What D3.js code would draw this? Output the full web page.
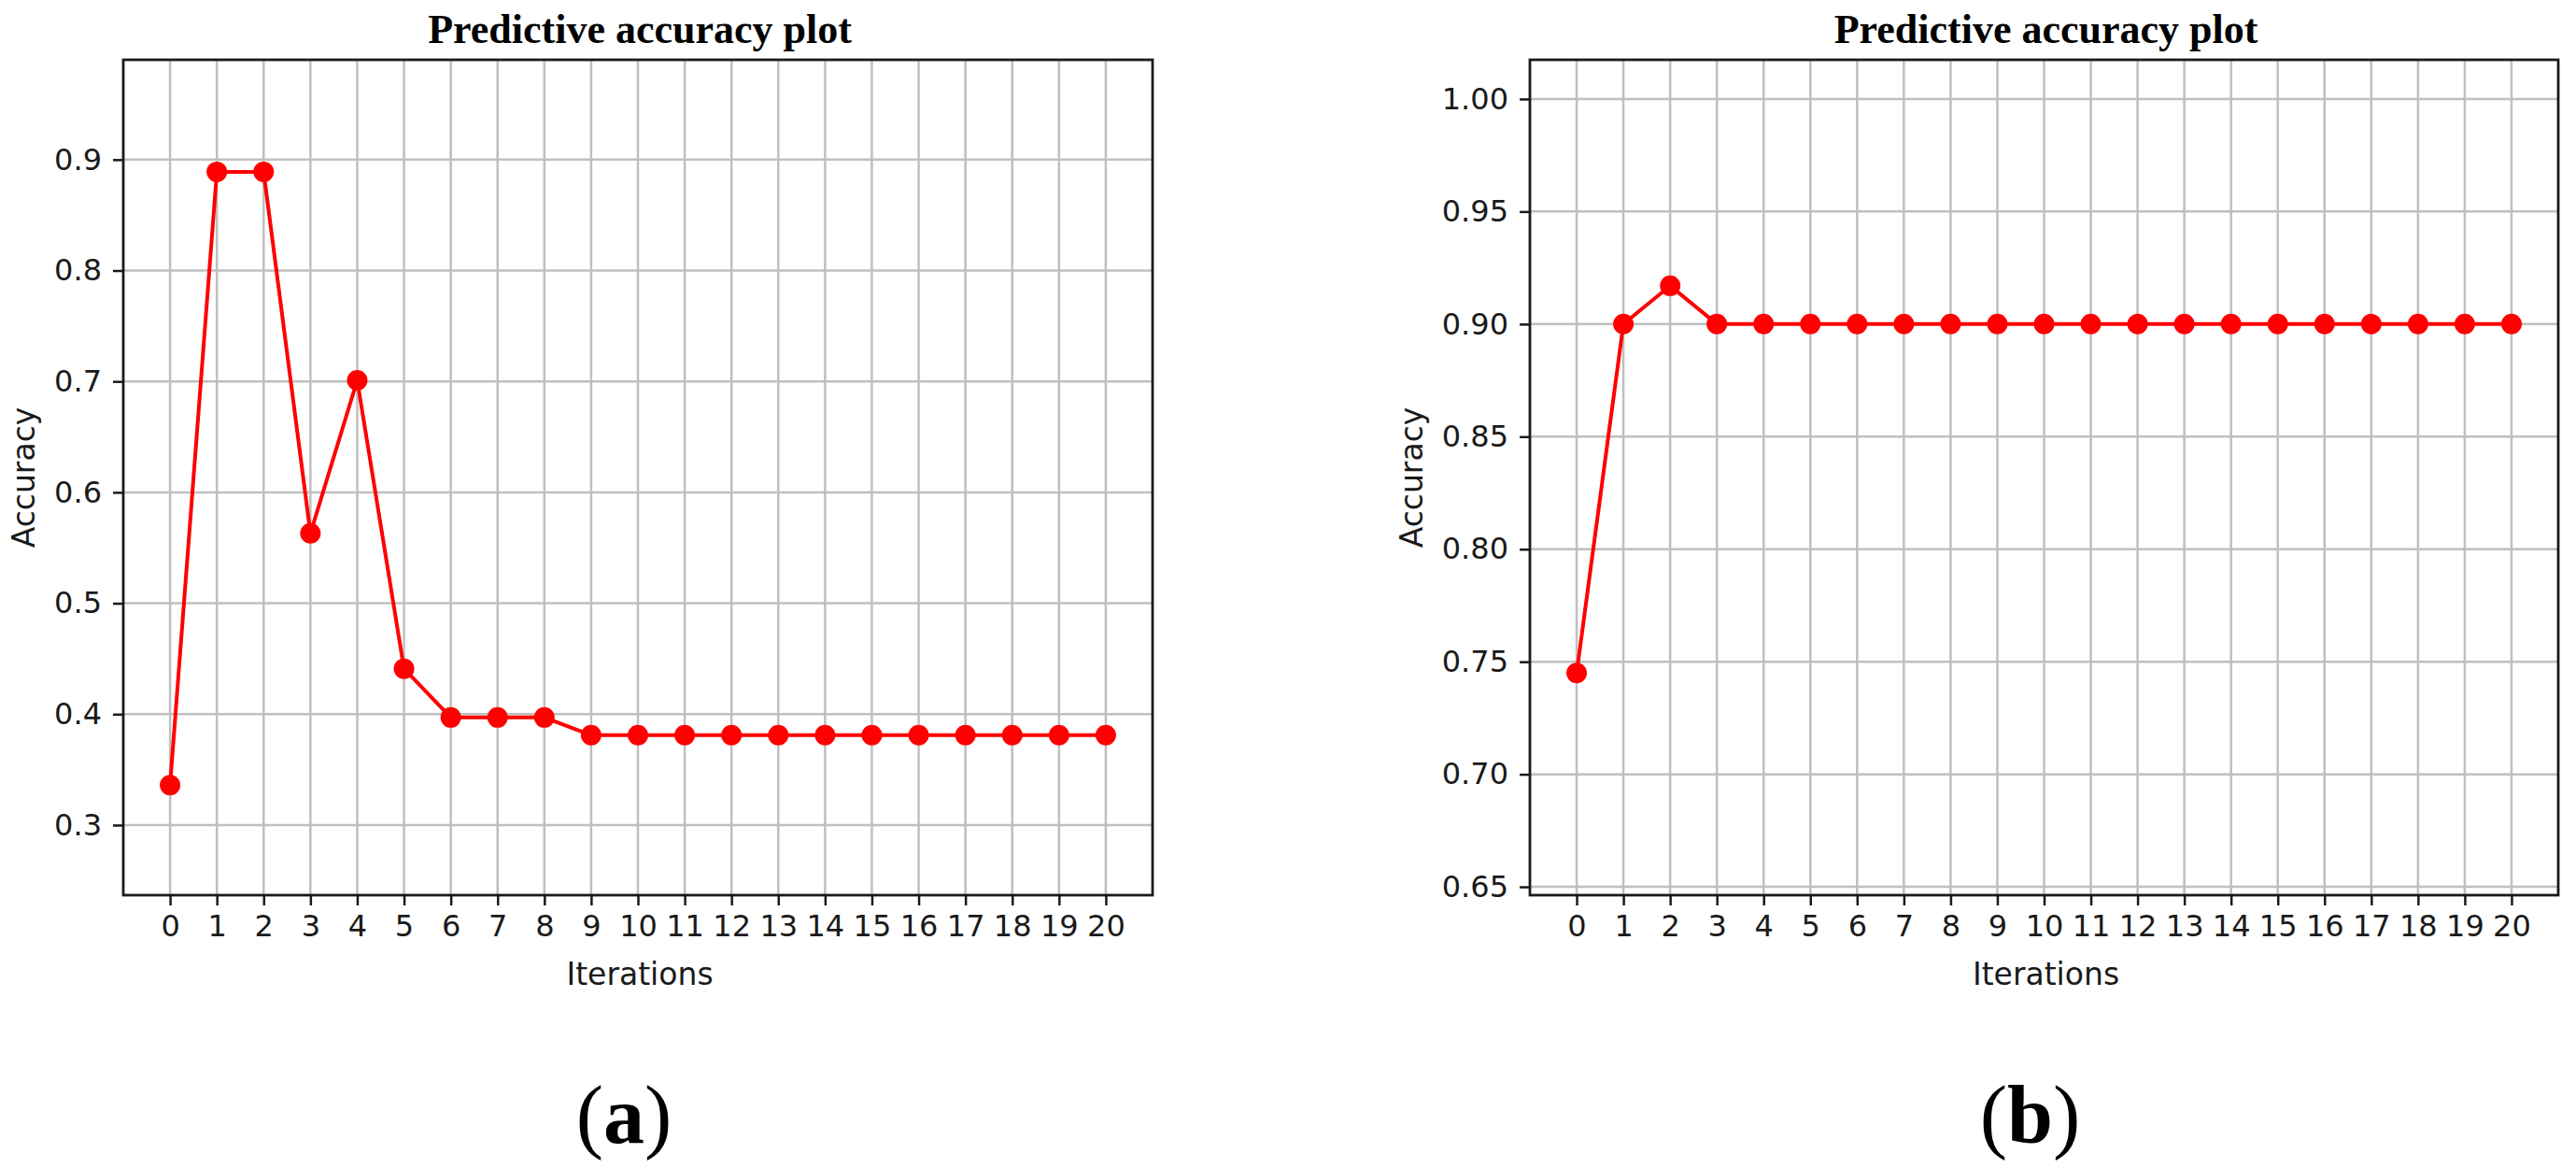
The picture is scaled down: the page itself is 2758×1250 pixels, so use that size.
<!DOCTYPE html>
<html>
<head>
<meta charset="utf-8">
<script src="https://cdn.jsdelivr.net/npm/d3@7"></script>
<style>
  body { margin: 0; background: #fff; }
  svg { display: block; }
</style>
</head>
<body>
<div id="chart"></div>
<script>
// Iteration numbers shared by both panels
const iterations = d3.range(0, 21);

// Panel (a) accuracy per iteration
const accuracyA = [0.336, 0.889, 0.889, 0.563, 0.701, 0.441, 0.397, 0.397, 0.397,
    0.381, 0.381, 0.381, 0.381, 0.381, 0.381, 0.381, 0.381, 0.381, 0.381, 0.381, 0.381];

// Panel (b) accuracy per iteration
const accuracyB = [0.745, 0.900, 0.917, 0.900, 0.900, 0.900, 0.900, 0.900, 0.900,
    0.900, 0.900, 0.900, 0.900, 0.900, 0.900, 0.900, 0.900, 0.900, 0.900, 0.900, 0.900];

// Y tick values
const yTicksA = [0.3, 0.4, 0.5, 0.6, 0.7, 0.8, 0.9];
const yTicksB = [0.65, 0.70, 0.75, 0.80, 0.85, 0.90, 0.95, 1.00];

const W = 2758, H = 1250;

const svg = d3.select("#chart")
    .append("svg")
    .attr("width", W)
    .attr("height", H);

const drawPanel = (p) => {
    const x = d3.scaleLinear().domain([-1, 21]).range([p.left, p.right]);
    const y = d3.scaleLinear().domain(p.yDomain).range([p.bottom, p.top]);
    const g = svg.append("g");

    // grid
    g.append("g")
        .selectAll("line")
        .data(iterations)
        .join("line")
        .attr("x1", d => x(d)).attr("x2", d => x(d))
        .attr("y1", p.top).attr("y2", p.bottom)
        .attr("stroke", "#bfbfbf")
        .attr("stroke-width", 2.5);
    g.append("g")
        .selectAll("line")
        .data(p.yTicks)
        .join("line")
        .attr("x1", p.left).attr("x2", p.right)
        .attr("y1", d => y(d)).attr("y2", d => y(d))
        .attr("stroke", "#bfbfbf")
        .attr("stroke-width", 2.5);

    // axes
    const xAxis = g.append("g")
        .attr("transform", `translate(0,${p.bottom})`)
        .call(d3.axisBottom(x).tickValues(iterations).tickFormat(d3.format("d"))
            .tickSize(11).tickPadding(10).tickSizeOuter(0));
    const yAxis = g.append("g")
        .attr("transform", `translate(${p.left},0)`)
        .call(d3.axisLeft(y).tickValues(p.yTicks).tickFormat(d3.format(p.fmt))
            .tickSize(11).tickPadding(12).tickSizeOuter(0));
    [xAxis, yAxis].forEach(a => {
        a.select(".domain").remove();
        a.selectAll(".tick line").attr("stroke", "#1a1a1a").attr("stroke-width", 2.5);
        a.selectAll(".tick text")
            .attr("fill", "#1a1a1a")
            .style("font-family", "'DejaVu Sans', sans-serif")
            .style("font-size", "32px");
    });
    xAxis.selectAll(".tick text").attr("dy", "0.71em");

    // frame
    g.append("rect")
        .attr("x", p.left).attr("y", p.top)
        .attr("width", p.right - p.left).attr("height", p.bottom - p.top)
        .attr("fill", "none")
        .attr("stroke", "#1a1a1a")
        .attr("stroke-width", 2.8);

    // line and markers
    const line = d3.line()
        .x((d, i) => x(iterations[i]))
        .y(d => y(d));
    g.append("path")
        .datum(p.values)
        .attr("fill", "none")
        .attr("stroke", "#ff0000")
        .attr("stroke-width", 4)
        .attr("d", line);
    g.selectAll(".dot")
        .data(p.values)
        .join("circle")
        .attr("class", "dot")
        .attr("cx", (d, i) => x(iterations[i]))
        .attr("cy", d => y(d))
        .attr("r", 11)
        .attr("fill", "#ff0000");

    const cx = (p.left + p.right) / 2;

    // title
    g.append("text")
        .attr("x", cx + 2)
        .attr("y", 46)
        .attr("text-anchor", "middle")
        .style("font-family", "'Liberation Serif', 'Times New Roman', serif")
        .style("font-weight", "bold")
        .style("font-size", "44px")
        .text("Predictive accuracy plot");

    // axis labels
    g.append("text")
        .attr("x", cx + 2)
        .attr("y", 1054)
        .attr("text-anchor", "middle")
        .attr("fill", "#1a1a1a")
        .style("font-family", "'DejaVu Sans', sans-serif")
        .style("font-size", "33px")
        .text("Iterations");
    g.append("text")
        .attr("transform", `translate(${p.ylabelX},${(p.top + p.bottom) / 2}) rotate(-90)`)
        .attr("text-anchor", "middle")
        .attr("fill", "#1a1a1a")
        .style("font-family", "'DejaVu Sans', sans-serif")
        .style("font-size", "33px")
        .text("Accuracy");

    // panel letter
    g.append("text")
        .attr("x", cx - 15)
        .attr("y", 1223)
        .attr("text-anchor", "middle")
        .style("font-family", "'Liberation Serif', 'Times New Roman', serif")
        .style("font-size", "88px")
        .html(`(<tspan font-weight="bold">${p.letter}</tspan>)`);
};

drawPanel({
    left: 132, right: 1234, top: 64, bottom: 958,
    yDomain: [0.2368, 0.990], yTicks: yTicksA, fmt: ".1f",
    values: accuracyA, ylabelX: 37, letter: "a"
});

drawPanel({
    left: 1638, right: 2739, top: 64, bottom: 958,
    yDomain: [0.6463, 1.0174], yTicks: yTicksB, fmt: ".2f",
    values: accuracyB, ylabelX: 1523, letter: "b"
});
</script>
</body>
</html>
